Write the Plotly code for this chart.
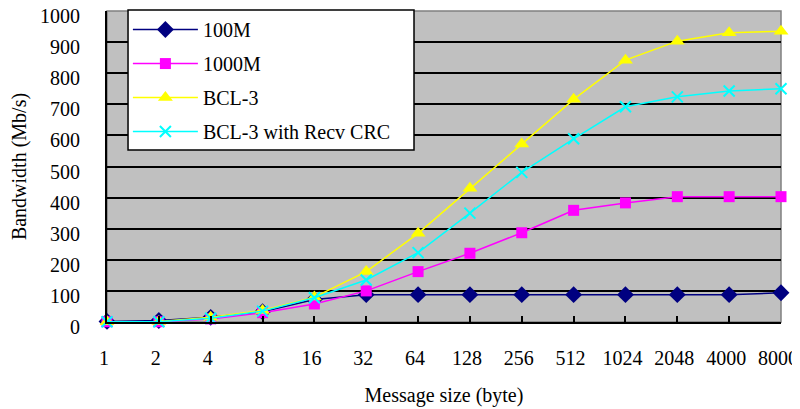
import plotly.graph_objects as go

categories = ["1", "2", "4", "8", "16", "32", "64", "128", "256", "512", "1024", "2048", "4000", "8000"]
bw_100m = [2, 5, 15, 33, 72, 88, 88, 88, 88, 88, 88, 88, 88, 94]
bw_1000m = [1, 1, 10, 30, 58, 100, 162, 221, 287, 359, 383, 403, 403, 403]
bw_bcl3 = [1, 2, 15, 37, 80, 162, 285, 430, 572, 716, 842, 903, 930, 935]
bw_bcl3_crc = [1, 1, 12, 35, 78, 135, 223, 350, 481, 589, 692, 724, 743, 750]

series = [
    ("100M", bw_100m, "#000080", "diamond", 13),
    ("1000M", bw_1000m, "#FF00FF", "square", 11),
    ("BCL-3", bw_bcl3, "#FFFF00", "triangle-up", 13),
    ("BCL-3 with Recv CRC", bw_bcl3_crc, "#00FFFF", "x-thin", 11),
]

fig = go.Figure()
for i, (name, vals, color, sym, size) in enumerate(series):
    marker = dict(symbol=sym, size=size, color=color)
    if sym == "x-thin":
        marker["line"] = dict(color=color, width=2)
    fig.add_trace(go.Scatter(
        x=categories, y=vals, name=name, mode="lines+markers",
        line=dict(color=color, width=1.5), marker=marker,
        legendgroup="g%d" % i, cliponaxis=False,
    ))

font_family = "Liberation Serif"
fs = 20
fig.update_layout(
    width=792, height=401,
    margin=dict(l=99, r=19, t=3, b=87, autoexpand=False),
    paper_bgcolor="white", plot_bgcolor="#C0C0C0",
    font=dict(family=font_family, size=fs, color="black"),
    showlegend=True,
    legend=dict(
        x=0.031, y=1.003, xanchor="left", yanchor="top",
        bgcolor="rgba(0,0,0,0)", borderwidth=0,
        font=dict(family=font_family, size=fs, color="black"),
        itemwidth=65, tracegroupgap=5,
    ),
    shapes=[
        dict(type="rect", xref="paper", yref="paper", x0=0, x1=1, y0=0, y1=1,
             line=dict(color="#808080", width=1.5), layer="below"),
        dict(type="rect", xref="paper", yref="paper", x0=0.0312, x1=0.4555, y0=0.553, y1=1.003,
             fillcolor="white", line=dict(color="black", width=1.5), layer="above"),
    ],
)
fig.update_xaxes(
    type="category", range=[0, 13], showgrid=False, automargin=False,
    showline=True, linecolor="black", linewidth=2,
    ticks="inside", ticklen=6, tickwidth=1.5, tickcolor="black",
    ticklabelstandoff=17, ticklabelshift=-3, ticklabeloverflow="allow",
    tickfont=dict(family=font_family, size=fs),
    title=dict(text="Message size (byte)", font=dict(family=font_family, size=fs), standoff=20),
)
fig.update_yaxes(
    range=[0, 1000], dtick=100, showgrid=True, gridcolor="black", gridwidth=1.5,
    showline=True, linecolor="black", linewidth=2, zeroline=False, automargin=False,
    ticks="", ticklabelstandoff=21, ticklabelshift=5, ticklabeloverflow="allow",
    tickfont=dict(family=font_family, size=fs),
    title=dict(text="Bandwidth (Mb/s)", font=dict(family=font_family, size=fs), standoff=18),
)
fig.write_html("out.html")
